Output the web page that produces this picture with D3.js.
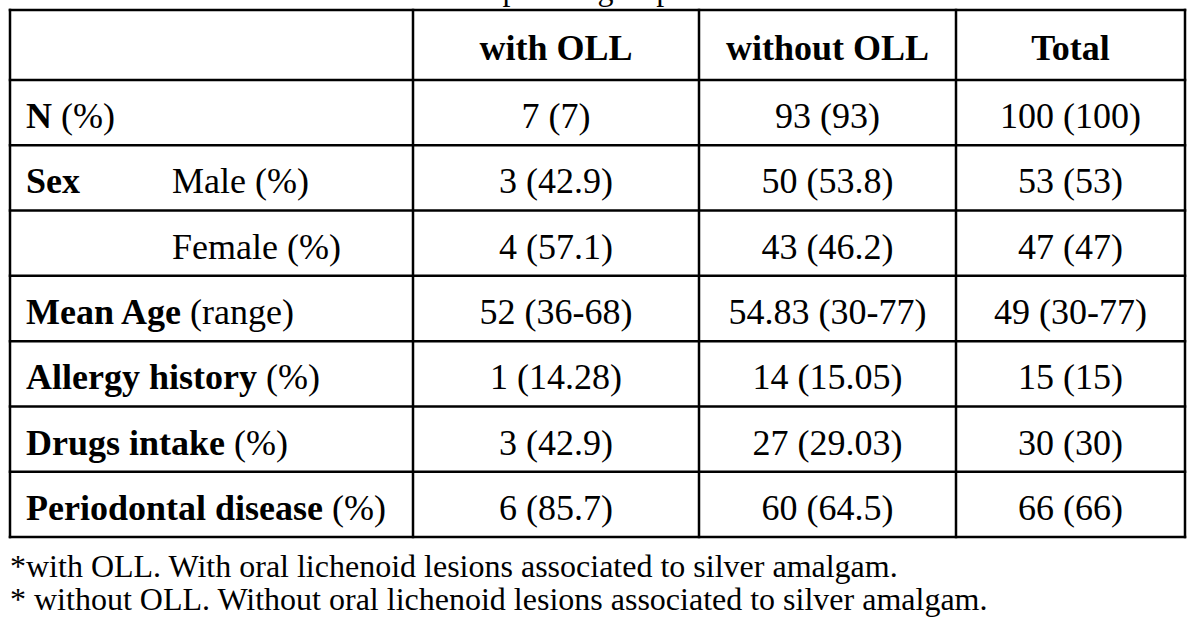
<!DOCTYPE html>
<html>
<head>
<meta charset="utf-8">
<script src="https://cdn.jsdelivr.net/npm/d3@7"></script>
<style>
  body { margin: 0; background: #fff; }
  svg { display: block; }
  text { font-family: "Liberation Serif", "Times New Roman", serif; fill: #000; }
</style>
</head>
<body>
<svg id="table" width="1200" height="623"></svg>
<script>
var width = 1200;
var height = 623;

// table content
var columns = ["with OLL", "without OLL", "Total"];
var rowBold = ["N", "Sex", "", "Mean Age", "Allergy history", "Drugs intake", "Periodontal disease"];
var rowRest = [" (%)", "", "", " (range)", " (%)", " (%)", " (%)"];
var rowSub = ["", "Male (%)", "Female (%)", "", "", "", ""];
var withOLL = ["7 (7)", "3 (42.9)", "4 (57.1)", "52 (36-68)", "1 (14.28)", "3 (42.9)", "6 (85.7)"];
var withoutOLL = ["93 (93)", "50 (53.8)", "43 (46.2)", "54.83 (30-77)", "14 (15.05)", "27 (29.03)", "60 (64.5)"];
var total = ["100 (100)", "53 (53)", "47 (47)", "49 (30-77)", "15 (15)", "30 (30)", "66 (66)"];
var footnotes = [
    "*with OLL. With oral lichenoid lesions associated to silver amalgam.",
    "* without OLL. Without oral lichenoid lesions associated to silver amalgam."
];
var caption = "Table 1. Characteristics of the patient groups";

var values = [withOLL, withoutOLL, total];

// layout
var tLeft = 10, tRight = 1185, tTop = 10, headerBottom = 80, tBottom = 537;
var colEdges = [tLeft, 413, 699, 956, tRight];
var fontSize = 36;

var svg = d3.select("#table");

svg.append("rect").attr("width", width).attr("height", height).attr("fill", "#fff");

// caption above the table, cut off by the top edge
svg.append("text")
    .attr("x", 112)
    .attr("y", 0)
    .attr("font-size", 32)
    .text(caption);

var yRow = d3.scaleBand()
    .domain(d3.range(rowBold.length))
    .range([headerBottom, tBottom]);

var xCol = d3.scaleOrdinal()
    .domain(columns)
    .range(columns.map(function(c, i) { return (colEdges[i + 1] + colEdges[i + 2]) / 2; }));

function rowY(i) {
    return yRow(i) + yRow.bandwidth() / 2 + fontSize * 0.43;
}

// header
svg.selectAll("text.head").data(columns)
    .enter().append("text")
    .attr("class", "head")
    .attr("x", function(d) { return xCol(d); })
    .attr("y", (tTop + headerBottom) / 2 + fontSize * 0.42)
    .attr("text-anchor", "middle")
    .attr("font-weight", "bold")
    .attr("font-size", fontSize)
    .text(function(d) { return d; });

// row labels
var labels = svg.selectAll("text.label").data(d3.range(rowBold.length))
    .enter().append("text")
    .attr("class", "label")
    .attr("x", 26)
    .attr("y", rowY)
    .attr("font-size", fontSize);

labels.append("tspan")
    .attr("font-weight", "bold")
    .text(function(i) { return rowBold[i]; });
labels.append("tspan")
    .text(function(i) { return rowRest[i]; });

svg.selectAll("text.sub").data(d3.range(rowSub.length).filter(function(i) { return rowSub[i]; }))
    .enter().append("text")
    .attr("class", "sub")
    .attr("x", 172)
    .attr("y", rowY)
    .attr("font-size", fontSize)
    .text(function(i) { return rowSub[i]; });

// cells
columns.forEach(function(c, ci) {
    svg.selectAll("text.cell" + ci).data(values[ci])
        .enter().append("text")
        .attr("class", "cell" + ci)
        .attr("x", xCol(c))
        .attr("y", function(d, i) { return rowY(i); })
        .attr("text-anchor", "middle")
        .attr("font-size", fontSize)
        .text(function(d) { return d; });
});

// grid lines
var hLines = [tTop, headerBottom].concat(d3.range(rowBold.length).map(function(i) { return yRow(i) + yRow.bandwidth(); }));
svg.selectAll("line.h").data(hLines)
    .enter().append("line")
    .attr("x1", tLeft - 1.25).attr("x2", tRight + 1.25)
    .attr("y1", function(d) { return d; }).attr("y2", function(d) { return d; })
    .attr("stroke", "#000").attr("stroke-width", 2.5);

svg.selectAll("line.v").data(colEdges)
    .enter().append("line")
    .attr("x1", function(d) { return d; }).attr("x2", function(d) { return d; })
    .attr("y1", tTop - 1.25).attr("y2", tBottom + 1.25)
    .attr("stroke", "#000").attr("stroke-width", 2.5);

// footnotes
svg.selectAll("text.note").data(footnotes)
    .enter().append("text")
    .attr("class", "note")
    .attr("x", 10)
    .attr("y", function(d, i) { return 577 + i * 33; })
    .attr("font-size", 32)
    .text(function(d) { return d; });
</script>
</body>
</html>
